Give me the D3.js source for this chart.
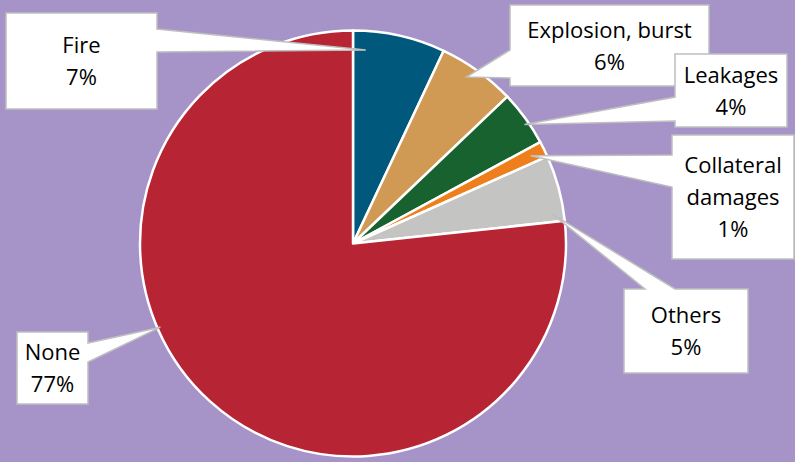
<!DOCTYPE html>
<html>
<head>
<meta charset="utf-8">
<script src="https://cdn.jsdelivr.net/npm/d3@7"></script>
<style>
  html, body { margin: 0; padding: 0; background: #A694C8; }
  svg { display: block; }
</style>
</head>
<body>
<svg id="chart" width="795" height="462"></svg>
<script>
// ---- data ----
const categories = ["Fire", "Explosion, burst", "Leakages", "Collateral damages", "Others", "None"];
const values = [7.0, 5.9, 4.2, 1.2, 5.0, 76.7];
const labelLines = [["Fire"], ["Explosion, burst"], ["Leakages"], ["Collateral", "damages"], ["Others"], ["None"]];
const colors = ["#00587C", "#D09A55", "#17622F", "#EE7F1C", "#C4C4C2", "#B72433"];

// ---- layout (callout boxes) ----
const callouts = [
  { x: 6,   y: 13,  w: 151, h: 96,  side: "right", b0: 29,  b1: 52,  t: 0.15, rf: 0.91 },
  { x: 510, y: 5,   w: 199, h: 81,  side: "left",  b0: 50,  b1: 78,  t: 0.43, rf: 0.947 },
  { x: 675, y: 54,  w: 112, h: 73,  side: "left",  b0: 97,  b1: 121, t: 0.58, rf: 0.98 },
  { x: 672, y: 135, w: 122, h: 124, side: "left",  b0: 155, b1: 187, t: 0.5,  rf: 0.93 },
  { x: 624, y: 289, w: 124, h: 84,  side: "top",   b0: 645, b1: 675, t: 0.87, rf: 0.945 },
  { x: 17,  y: 332, w: 71,  h: 72,  side: "right", b0: 343, b1: 362, t: 0.589, rf: 0.986 }
];

const W = 795, H = 462;
const cx = 353, cy = 243.5, R = 213;
const svg = d3.select("#chart");

const data = categories.map((c, i) => ({ name: c, value: values[i], i }));
const pie = d3.pie().value(d => d.value).sort(null);
const arcs = pie(data);
const arc = d3.arc().innerRadius(0).outerRadius(R);

const g = svg.append("g").attr("transform", `translate(${cx},${cy})`);
g.selectAll("path.slice")
  .data(arcs)
  .enter().append("path")
  .attr("class", "slice")
  .attr("d", arc)
  .attr("fill", d => colors[d.data.i])
  .attr("stroke", "#ffffff")
  .attr("stroke-width", 2.5)
  .attr("stroke-linejoin", "round");

// callouts
function tipPoint(a, co) {
  const ang = a.startAngle + co.t * (a.endAngle - a.startAngle);
  const r = co.rf * R;
  return [cx + r * Math.sin(ang), cy - r * Math.cos(ang)];
}
function calloutPath(co, tip) {
  const x0 = co.x, y0 = co.y, x1 = co.x + co.w, y1 = co.y + co.h;
  const p = d3.path();
  p.moveTo(x0, y0);
  if (co.side === "top") { p.lineTo(co.b0, y0); p.lineTo(tip[0], tip[1]); p.lineTo(co.b1, y0); }
  p.lineTo(x1, y0);
  if (co.side === "right") { p.lineTo(x1, co.b0); p.lineTo(tip[0], tip[1]); p.lineTo(x1, co.b1); }
  p.lineTo(x1, y1);
  p.lineTo(x0, y1);
  if (co.side === "left") { p.lineTo(x0, co.b1); p.lineTo(tip[0], tip[1]); p.lineTo(x0, co.b0); }
  p.closePath();
  return p.toString();
}

const total = d3.sum(values);
const lg = svg.append("g");
arcs.forEach((a, i) => {
  const co = callouts[i];
  const tip = tipPoint(a, co);
  lg.append("path")
    .attr("d", calloutPath(co, tip))
    .attr("fill", "#ffffff")
    .attr("stroke", "#BFBFBF")
    .attr("stroke-width", 1.5)
    .attr("stroke-linejoin", "miter");
  const lines = labelLines[i].concat([Math.round(values[i] / total * 100) + "%"]);
  const n = lines.length;
  const tx = co.x + co.w / 2, ty = co.y + co.h / 2;
  const t = lg.append("text")
    .attr("text-anchor", "middle")
    .attr("font-family", "'Open Sans', 'Noto Sans', sans-serif")
    .attr("font-size", 22)
    .attr("fill", "#000000");
  lines.forEach((ln, k) => {
    t.append("tspan")
      .attr("x", tx)
      .attr("y", ty + (k - (n - 1) / 2) * 32 + 8)
      .text(ln);
  });
});
</script>
</body>
</html>
